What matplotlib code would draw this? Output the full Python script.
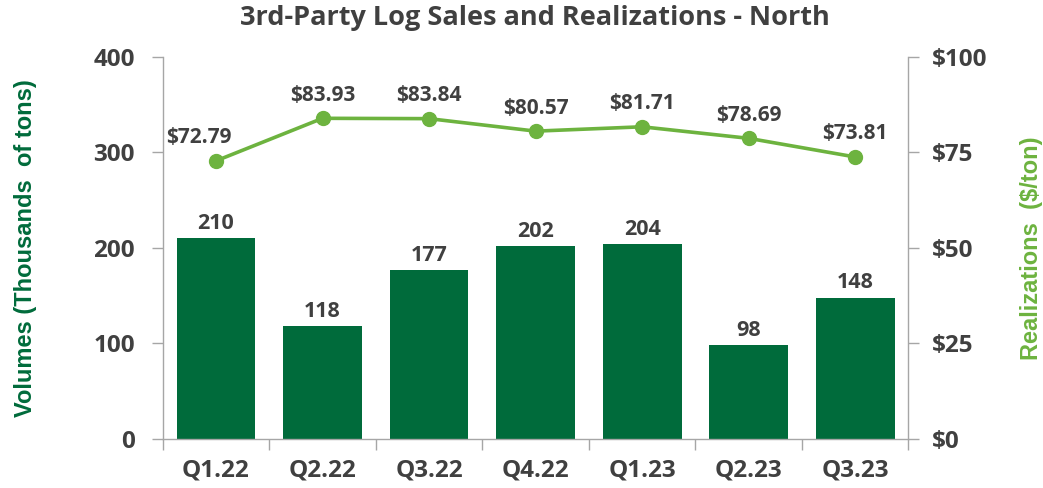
import matplotlib
matplotlib.use("Agg")
import matplotlib.pyplot as plt
from matplotlib.ticker import FuncFormatter

categories = ["Q1.22", "Q2.22", "Q3.22", "Q4.22", "Q1.23", "Q2.23", "Q3.23"]
volumes = [210, 118, 177, 202, 204, 98, 148]
realizations = [72.79, 83.93, 83.84, 80.57, 81.71, 78.69, 73.81]

bar_color = "#006B3B"
line_color = "#6DB33F"
text_color = "#404040"
spine_color = "#A6A6A6"
font = "Open Sans"

fig = plt.figure(figsize=(10.43, 4.88), dpi=100)
ax = fig.add_axes([0.156, 0.1004, 0.715, 0.783])
ax2 = ax.twinx()

x = list(range(len(categories)))
bars = ax.bar(x, volumes, width=0.74, color=bar_color, zorder=2)
ax.set_xlim(-0.5, len(categories) - 0.5)
ax.set_ylim(0, 400)
ax.set_yticks([0, 100, 200, 300, 400])
ax.set_xticks(x)
ax.set_xticklabels(categories)
ax.set_xticks([i + 0.5 for i in range(-1, len(categories))], minor=True)
ax.tick_params(axis="x", which="major", length=0, pad=14)
ax.tick_params(axis="x", which="minor", length=8, color=spine_color, width=1)
ax.tick_params(axis="y", length=8, color=spine_color, width=1, pad=12)
for lab in ax.get_xticklabels() + ax.get_yticklabels():
    lab.set_fontfamily(font)
    lab.set_fontweight("bold")
    lab.set_fontsize(17.5)
    lab.set_color(text_color)

for rect, v in zip(bars, volumes):
    ax.annotate(f"{v}", (rect.get_x() + rect.get_width() / 2, v),
                xytext=(0, 3), textcoords="offset points", ha="center", va="bottom",
                fontfamily=font, fontweight="bold", fontsize=15.5, color=text_color)

ax2.plot(x, realizations, color=line_color, linewidth=2.6, marker="o", markersize=10, zorder=3)
ax2.set_ylim(0, 100)
ax2.set_yticks([0, 25, 50, 75, 100])
ax2.yaxis.set_major_formatter(FuncFormatter(lambda v, p: f"${v:.0f}"))
ax2.tick_params(axis="y", length=8, color=spine_color, width=1, pad=9)
for lab in ax2.get_yticklabels():
    lab.set_fontfamily(font)
    lab.set_fontweight("bold")
    lab.set_fontsize(17.5)
    lab.set_color(text_color)

for i, r in enumerate(realizations):
    dx = -12 if i == 0 else 0
    ax2.annotate(f"${r:.2f}", (i, r), xytext=(dx, 9), textcoords="offset points",
                 ha="center", va="bottom", fontfamily=font, fontweight="bold",
                 fontsize=15, color=text_color)

for a in (ax, ax2):
    a.spines["top"].set_visible(False)
    for s in ("left", "right", "bottom"):
        a.spines[s].set_color(spine_color)
        a.spines[s].set_linewidth(1)
ax.spines["right"].set_visible(False)
ax2.spines["left"].set_visible(False)
ax2.spines["bottom"].set_visible(False)

ax.set_ylabel("Volumes (Thousands  of tons)", fontfamily="Liberation Sans", fontweight="bold",
              fontsize=17, color=bar_color)
ax.yaxis.set_label_coords(-0.169, 0.5)
ax2.set_ylabel("Realizations  ($/ton)", fontfamily="Liberation Sans", fontweight="bold",
               fontsize=17, color=line_color, rotation=90)
ax2.yaxis.set_label_coords(1.150, 0.5)

fig.suptitle("3rd-Party Log Sales and Realizations - North", fontfamily=font, fontweight="bold",
             fontsize=19.5, color=text_color, x=0.513, y=0.99)

fig.savefig("out.png", dpi=100)
